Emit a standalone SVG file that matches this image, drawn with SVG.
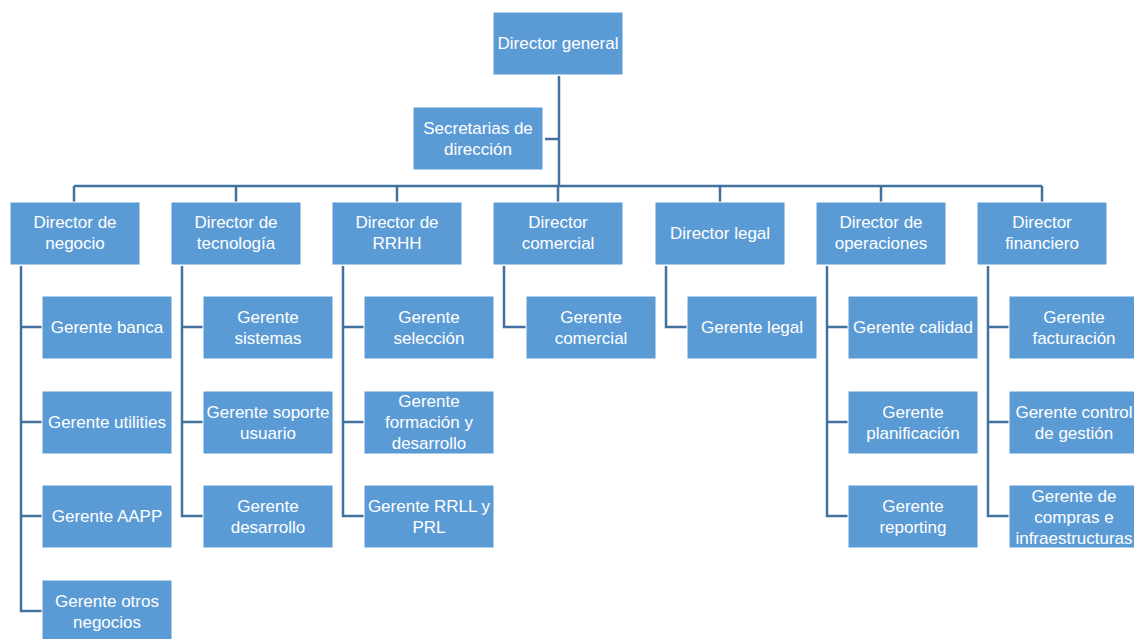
<svg xmlns="http://www.w3.org/2000/svg" width="1134" height="639" viewBox="0 0 1134 639">
<style>
.b{fill:#5B9BD5;stroke:#ffffff;stroke-width:1}
.t{font-family:"Liberation Sans",Arial,sans-serif;font-size:17px;fill:#ffffff;text-anchor:middle;dominant-baseline:central}
.c{fill:none;stroke:#41719C;stroke-width:2.5}
</style>
<rect width="1134" height="639" fill="#ffffff"/>
<g id="connectors">
<path class="c" d="M559 76V186M545 139H559M74 186H1042M74 186V202M236 186V202M397 186V202M558 186V202M720 186V202M881 186V202M1042 186V202"/>
<path class="c" d="M21 266V611H42M21 327H42M21 422H42M21 516H42"/>
<path class="c" d="M182 266V516H203M182 327H203M182 422H203"/>
<path class="c" d="M343 266V516H364M343 327H364M343 422H364"/>
<path class="c" d="M504 266V327H526"/>
<path class="c" d="M666 266V327H687"/>
<path class="c" d="M827 266V516H848M827 327H848M827 422H848"/>
<path class="c" d="M988 266V516H1009M988 327H1009M988 422H1009"/>
</g>
<g id="director-general"><rect class="b" x="493" y="12" width="130" height="63"/><text class="t" x="558" y="43">Director general</text></g>
<g id="secretarias"><rect class="b" x="413" y="107" width="130" height="63"/><text class="t" x="478" y="128">Secretarias de</text><text class="t" x="478" y="149">dirección</text></g>
<g id="dir-negocio"><rect class="b" x="10" y="202" width="130" height="63"/><text class="t" x="75" y="222">Director de</text><text class="t" x="75" y="243">negocio</text></g>
<g id="dir-tecnologia"><rect class="b" x="171" y="202" width="130" height="63"/><text class="t" x="236" y="222">Director de</text><text class="t" x="236" y="243">tecnología</text></g>
<g id="dir-rrhh"><rect class="b" x="332" y="202" width="130" height="63"/><text class="t" x="397" y="222">Director de</text><text class="t" x="397" y="243">RRHH</text></g>
<g id="dir-comercial"><rect class="b" x="493" y="202" width="130" height="63"/><text class="t" x="558" y="222">Director</text><text class="t" x="558" y="243">comercial</text></g>
<g id="dir-legal"><rect class="b" x="655" y="202" width="130" height="63"/><text class="t" x="720" y="233">Director legal</text></g>
<g id="dir-operaciones"><rect class="b" x="816" y="202" width="130" height="63"/><text class="t" x="881" y="222">Director de</text><text class="t" x="881" y="243">operaciones</text></g>
<g id="dir-financiero"><rect class="b" x="977" y="202" width="130" height="63"/><text class="t" x="1042" y="222">Director</text><text class="t" x="1042" y="243">financiero</text></g>
<g id="g-banca"><rect class="b" x="42" y="296" width="130" height="63"/><text class="t" x="107" y="327">Gerente banca</text></g>
<g id="g-utilities"><rect class="b" x="42" y="391" width="130" height="63"/><text class="t" x="107" y="422">Gerente utilities</text></g>
<g id="g-aapp"><rect class="b" x="42" y="485" width="130" height="63"/><text class="t" x="107" y="516">Gerente AAPP</text></g>
<g id="g-otros"><rect class="b" x="42" y="580" width="130" height="63"/><text class="t" x="107" y="601">Gerente otros</text><text class="t" x="107" y="622">negocios</text></g>
<g id="g-sistemas"><rect class="b" x="203" y="296" width="130" height="63"/><text class="t" x="268" y="317">Gerente</text><text class="t" x="268" y="338">sistemas</text></g>
<g id="g-soporte"><rect class="b" x="203" y="391" width="130" height="63"/><text class="t" x="268" y="412">Gerente soporte</text><text class="t" x="268" y="433">usuario</text></g>
<g id="g-desarrollo"><rect class="b" x="203" y="485" width="130" height="63"/><text class="t" x="268" y="506">Gerente</text><text class="t" x="268" y="527">desarrollo</text></g>
<g id="g-seleccion"><rect class="b" x="364" y="296" width="130" height="63"/><text class="t" x="429" y="317">Gerente</text><text class="t" x="429" y="338">selección</text></g>
<g id="g-formacion"><rect class="b" x="364" y="391" width="130" height="63"/><text class="t" x="429" y="401">Gerente</text><text class="t" x="429" y="422">formación y</text><text class="t" x="429" y="443">desarrollo</text></g>
<g id="g-rrll"><rect class="b" x="364" y="485" width="130" height="63"/><text class="t" x="429" y="506">Gerente RRLL y</text><text class="t" x="429" y="527">PRL</text></g>
<g id="g-comercial"><rect class="b" x="526" y="296" width="130" height="63"/><text class="t" x="591" y="317">Gerente</text><text class="t" x="591" y="338">comercial</text></g>
<g id="g-legal"><rect class="b" x="687" y="296" width="130" height="63"/><text class="t" x="752" y="327">Gerente legal</text></g>
<g id="g-calidad"><rect class="b" x="848" y="296" width="130" height="63"/><text class="t" x="913" y="327">Gerente calidad</text></g>
<g id="g-planificacion"><rect class="b" x="848" y="391" width="130" height="63"/><text class="t" x="913" y="412">Gerente</text><text class="t" x="913" y="433">planificación</text></g>
<g id="g-reporting"><rect class="b" x="848" y="485" width="130" height="63"/><text class="t" x="913" y="506">Gerente</text><text class="t" x="913" y="527">reporting</text></g>
<g id="g-facturacion"><rect class="b" x="1009" y="296" width="130" height="63"/><text class="t" x="1074" y="317">Gerente</text><text class="t" x="1074" y="338">facturación</text></g>
<g id="g-control"><rect class="b" x="1009" y="391" width="130" height="63"/><text class="t" x="1074" y="412">Gerente control</text><text class="t" x="1074" y="433">de gestión</text></g>
<g id="g-compras"><rect class="b" x="1009" y="485" width="130" height="63"/><text class="t" x="1074" y="496">Gerente de</text><text class="t" x="1074" y="517">compras e</text><text class="t" x="1074" y="538">infraestructuras</text></g>
</svg>
